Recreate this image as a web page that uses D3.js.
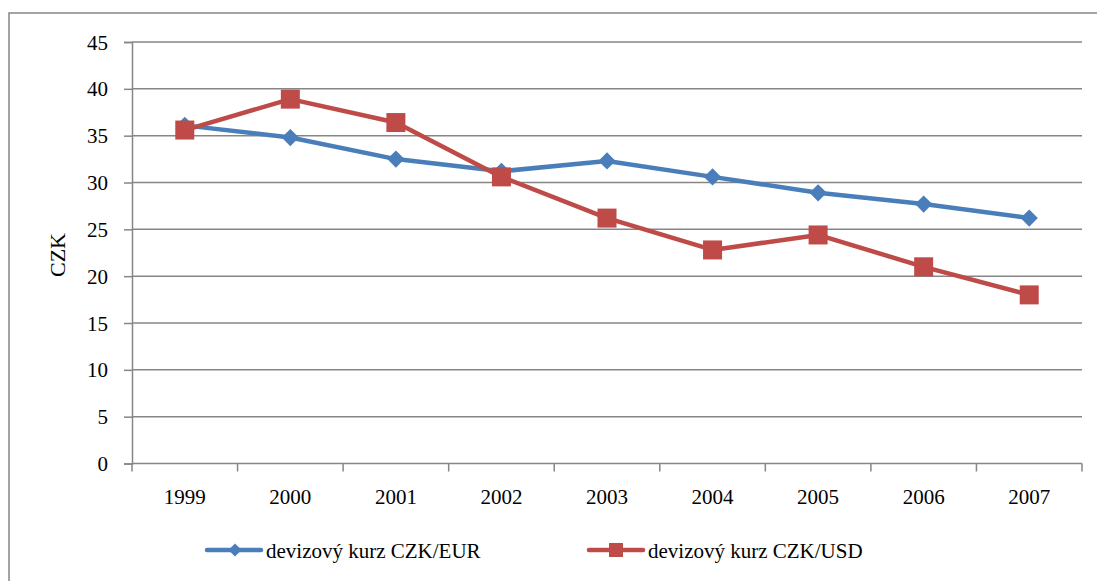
<!DOCTYPE html>
<html>
<head>
<meta charset="utf-8">
<script src="https://cdn.jsdelivr.net/npm/d3@7"></script>
<style>
  body { margin: 0; background: #fff; }
</style>
</head>
<body>
<div id="chart"></div>
<script>
// data
var years = ["1999", "2000", "2001", "2002", "2003", "2004", "2005", "2006", "2007"];
var czkEur = [36.1, 34.8, 32.5, 31.2, 32.3, 30.6, 28.9, 27.7, 26.2];
var czkUsd = [35.6, 38.9, 36.4, 30.6, 26.2, 22.8, 24.4, 21.0, 18.0];
var yTicks = [0, 5, 10, 15, 20, 25, 30, 35, 40, 45];
var seriesNames = ["devizový kurz CZK/EUR", "devizový kurz CZK/USD"];

var svgWidth = 1097;
var svgHeight = 581;
var serif = "'Liberation Serif', 'Times New Roman', Times, serif";

var margin = { top: 42, right: 15, bottom: 118, left: 132 };
var width = 1082 - margin.left;
var height = 463.5 - margin.top;

var blue = "#4A7EBB";
var red = "#BE4B48";
var gridColor = "#868686";

// apply serif font inline on a text selection
function styleText(sel, size) {
  sel.style("font-family", serif)
    .style("font-size", size + "px")
    .style("fill", "#000");
  return sel;
}

var svg = d3.select("#chart")
  .append("svg")
  .attr("width", svgWidth)
  .attr("height", svgHeight);

// outer chart border
svg.append("rect")
  .attr("x", 9)
  .attr("y", 13)
  .attr("width", svgWidth + 10)
  .attr("height", svgHeight + 10)
  .attr("fill", "none")
  .attr("stroke", gridColor)
  .attr("stroke-width", 1.5);

var chartGroup = svg.append("g")
  .attr("transform", `translate(${margin.left}, ${margin.top})`);

// scales
var xBand = d3.scaleBand().domain(years).range([0, width]).padding(0);
var xScale = d => xBand(d) + xBand.bandwidth() / 2;
var yScale = d3.scaleLinear().domain([0, 45]).range([height, 0]);

// gridlines
chartGroup.append("g")
  .selectAll("line")
  .data(yTicks.filter(d => d > 0))
  .enter()
  .append("line")
  .attr("x1", 0)
  .attr("x2", width)
  .attr("y1", d => yScale(d))
  .attr("y2", d => yScale(d))
  .attr("stroke", gridColor)
  .attr("stroke-width", 1.5);

// y axis
var leftAxis = d3.axisLeft(yScale).tickValues(yTicks).tickSize(8).tickPadding(16);
var yAxis = chartGroup.append("g").call(leftAxis);
yAxis.select(".domain").attr("stroke", gridColor).attr("stroke-width", 1.5);
yAxis.selectAll(".tick line").attr("stroke", gridColor).attr("stroke-width", 1.5);
styleText(yAxis.selectAll("text").attr("dy", "0.34em"), 21);

// x axis: ticks at band boundaries
var xAxisG = chartGroup.append("g").attr("transform", `translate(0, ${height})`);
xAxisG.append("line")
  .attr("x1", 0).attr("x2", width)
  .attr("stroke", gridColor).attr("stroke-width", 1.5);
xAxisG.selectAll(".xtick")
  .data(d3.range(years.length + 1))
  .enter()
  .append("line")
  .attr("x1", i => i * xBand.bandwidth())
  .attr("x2", i => i * xBand.bandwidth())
  .attr("y1", 0).attr("y2", 8)
  .attr("stroke", gridColor).attr("stroke-width", 1.5);
styleText(xAxisG.selectAll(".xlabel")
  .data(years)
  .enter()
  .append("text")
  .attr("x", d => xScale(d))
  .attr("y", 40)
  .attr("text-anchor", "middle")
  .text(d => d), 21);

// y axis label
styleText(chartGroup.append("text")
  .attr("transform", `translate(${65 - margin.left}, ${255 - margin.top}) rotate(-90)`)
  .attr("text-anchor", "middle")
  .text("CZK"), 22);

var line = d3.line()
  .x((d, i) => xScale(years[i]))
  .y(d => yScale(d));

var diamond = d3.symbol().type(d3.symbolDiamond2).size(190);

function drawSeries(values, color, marker) {
  chartGroup.append("path")
    .datum(values)
    .attr("d", line)
    .attr("fill", "none")
    .attr("stroke", color)
    .attr("stroke-width", 4.5)
    .attr("stroke-linejoin", "round")
    .attr("stroke-linecap", "round");

  var g = chartGroup.append("g");
  if (marker === "diamond") {
    g.selectAll("path")
      .data(values)
      .enter()
      .append("path")
      .attr("d", diamond)
      .attr("transform", (d, i) => `translate(${xScale(years[i])}, ${yScale(d)})`)
      .attr("fill", color);
  } else {
    g.selectAll("rect")
      .data(values)
      .enter()
      .append("rect")
      .attr("x", (d, i) => xScale(years[i]) - 9.5)
      .attr("y", d => yScale(d) - 9.5)
      .attr("width", 19)
      .attr("height", 19)
      .attr("fill", color);
  }
}

drawSeries(czkEur, blue, "diamond");
drawSeries(czkUsd, red, "square");

// legend
var legend = svg.append("g");
var legendItems = [
  { name: seriesNames[0], color: blue, x: 207, marker: "diamond" },
  { name: seriesNames[1], color: red, x: 589, marker: "square" }
];
legendItems.forEach(function(item) {
  legend.append("line")
    .attr("x1", item.x).attr("x2", item.x + 54)
    .attr("y1", 550).attr("y2", 550)
    .attr("stroke", item.color)
    .attr("stroke-width", 4.5)
    .attr("stroke-linecap", "round");
  if (item.marker === "diamond") {
    legend.append("path")
      .attr("d", d3.symbol().type(d3.symbolDiamond2).size(110)())
      .attr("transform", `translate(${item.x + 28}, 550)`)
      .attr("fill", item.color);
  } else {
    legend.append("rect")
      .attr("x", item.x + 27 - 7).attr("y", 550 - 7)
      .attr("width", 14).attr("height", 14)
      .attr("fill", item.color);
  }
  styleText(legend.append("text")
    .attr("x", item.x + 59)
    .attr("y", 558)
    .text(item.name), 21);
});
</script>
</body>
</html>
